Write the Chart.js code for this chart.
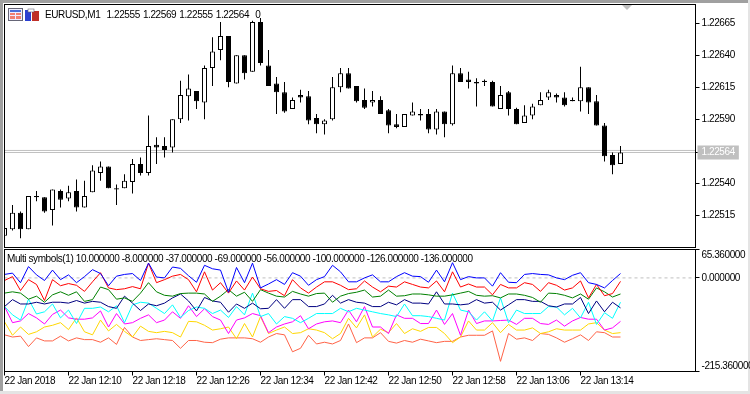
<!DOCTYPE html>
<html>
<head>
<meta charset="utf-8">
<title>EURUSD,M1</title>
<script src="https://cdn.jsdelivr.net/npm/chart.js@4/dist/chart.umd.min.js"></script>
<style>
    html, body { margin: 0; padding: 0; background: #fff; }
    #marco { position: relative; width: 750px; height: 394px; overflow: hidden; background: #fff; font: 10px "Liberation Sans", sans-serif; letter-spacing: -0.4px; color: #000; }
    #marco canvas { position: absolute; left: 0; }
    #bordeSup { position: absolute; left: 0; top: 0; width: 750px; height: 3px; background: #a0a0a0; }
    #bordeIzq { position: absolute; left: 0; top: 0; width: 3px; height: 394px; background: #a0a0a0; }
    #bordeDer { position: absolute; right: 0; top: 0; width: 2px; height: 394px; background: #e4e4e4; }
    #bordeInf { position: absolute; left: 0; bottom: 0; width: 750px; height: 3px; background: #e4e4e4; }
    .texto { position: absolute; white-space: pre; line-height: 12px; }
    #cabecera { word-spacing: 0.7px; }
    #flecha { position: absolute; left: 622px; top: 5px; width: 0; height: 0; border-left: 5px solid transparent; border-right: 5px solid transparent; border-top: 5px solid #c0c0c0; }
    #iconos { position: absolute; left: 8px; top: 8px; }
</style>
</head>
<body>
<div id="marco">
    <div id="bordeSup"></div><div id="bordeIzq"></div><div id="bordeDer"></div><div id="bordeInf"></div>
    <canvas id="chartVelas" style="top:0" width="750" height="248"></canvas>
    <canvas id="chartIndicador" style="top:248px" width="750" height="146"></canvas>
    <svg id="iconos" width="33" height="14" viewBox="0 0 33 14">
        <rect x="0.5" y="0.5" width="14" height="12" fill="#eef" stroke="#667"/>
        <rect x="2" y="2" width="11" height="2" fill="#4a6fd8"/>
        <rect x="2" y="5" width="5" height="2" fill="#f08070"/><rect x="8" y="5" width="5" height="2" fill="#f08070"/>
        <rect x="2" y="8" width="5" height="3" fill="#f08070"/><rect x="8" y="8" width="5" height="3" fill="#f08070"/>
        <rect x="17" y="2" width="6" height="11" fill="#2b3fd0"/><rect x="24" y="3" width="7" height="10" fill="#c03028"/>
        <rect x="20" y="1" width="6" height="3" fill="#fff" stroke="#667" stroke-width="0.6"/>
    </svg>
    <div id="flecha"></div>
    <div class="texto" id="cabecera" style="left:45px;top:9px"></div>
    <div class="texto" id="leyenda" style="left:7px;top:253px"></div>
</div>
<script>
// velas M1
const opens = [1.22499,1.22504,1.22517,1.22504,1.22530,1.22529,1.22519,1.22534,1.22528,1.22534,1.22521,1.22533,1.22548,1.22553,1.22536,1.22536,1.22541,1.22555,1.22548,1.22570,1.22569,1.22568,1.22590,1.22608,1.22612,1.22603,1.22630,1.22644,1.22655,1.22618,1.22640,1.22627,1.22666,1.22632,1.22618,1.22611,1.22598,1.22609,1.22608,1.22591,1.22586,1.22590,1.22615,1.22626,1.22616,1.22605,1.22603,1.22605,1.22597,1.22586,1.22584,1.22593,1.22594,1.22594,1.22582,1.22596,1.22586,1.22626,1.22621,1.22619,1.22620,1.22619,1.22598,1.22611,1.22598,1.22587,1.22593,1.22601,1.22607,1.22609,1.22607,1.22605,1.22604,1.22615,1.22604,1.22585,1.22562,1.22555];
const highs = [1.22506,1.22523,1.22518,1.22530,1.22534,1.22529,1.22535,1.22535,1.22538,1.22543,1.22542,1.22554,1.22557,1.22553,1.22539,1.22547,1.22559,1.22560,1.22593,1.22576,1.22576,1.22590,1.22620,1.22625,1.22612,1.22632,1.22654,1.22666,1.22655,1.22640,1.22640,1.22667,1.22669,1.22644,1.22623,1.22619,1.22607,1.22613,1.22612,1.22594,1.22590,1.22623,1.22630,1.22630,1.22616,1.22614,1.22612,1.22608,1.22598,1.22594,1.22594,1.22603,1.22598,1.22598,1.22598,1.22596,1.22632,1.22630,1.22627,1.22622,1.22621,1.22620,1.22616,1.22612,1.22599,1.22601,1.22602,1.22611,1.22613,1.22610,1.22611,1.22607,1.22631,1.22615,1.22609,1.22587,1.22564,1.22569];
const lows = [1.22498,1.22503,1.22497,1.22504,1.22526,1.22517,1.22507,1.22521,1.22526,1.22518,1.22521,1.22533,1.22542,1.22536,1.22523,1.22536,1.22532,1.22546,1.22546,1.22555,1.22560,1.22564,1.22587,1.22589,1.22598,1.22590,1.22616,1.22636,1.22615,1.22618,1.22621,1.22627,1.22632,1.22616,1.22594,1.22595,1.22598,1.22603,1.22586,1.22579,1.22578,1.22589,1.22611,1.22614,1.22603,1.22598,1.22600,1.22594,1.22579,1.22583,1.22584,1.22593,1.22589,1.22579,1.22578,1.22576,1.22585,1.22619,1.22614,1.22600,1.22616,1.22600,1.22598,1.22593,1.22586,1.22587,1.22590,1.22601,1.22605,1.22603,1.22600,1.22604,1.22596,1.22594,1.22585,1.22557,1.22547,1.22555];
const closes = [1.22505,1.22517,1.22504,1.22530,1.22529,1.22518,1.22535,1.22527,1.22533,1.22521,1.22530,1.22550,1.22553,1.22536,1.22535,1.22542,1.22555,1.22548,1.22569,1.22568,1.22566,1.22590,1.22609,1.22614,1.22604,1.22630,1.22643,1.22655,1.22619,1.22640,1.22626,1.22666,1.22634,1.22616,1.22611,1.22596,1.22605,1.22607,1.22589,1.22586,1.22589,1.22615,1.22626,1.22614,1.22604,1.22599,1.22605,1.22594,1.22585,1.22584,1.22594,1.22596,1.22593,1.22582,1.22596,1.22586,1.22626,1.22619,1.22619,1.22618,1.22619,1.22600,1.22609,1.22598,1.22586,1.22593,1.22600,1.22605,1.22611,1.22607,1.22601,1.22604,1.22615,1.22603,1.22585,1.22561,1.22554,1.22564];

// indicador Multi symbols(1)
const serieAzul = [8,11,-11,26,7,-6,18,-4,7,-11,3,19,10,-18,4,8,10,-6,34,2,0,25,22,5,-10,29,21,18,-33,24,-11,34,-23,-14,-4,-15,12,4,-17,-4,3,29,14,-9,-9,0,7,-9,-9,3,12,4,3,-10,18,-9,35,-4,3,0,0,-19,12,-10,-11,8,10,8,7,0,-4,6,12,-11,-15,-23,-6,10];
const serieRoja = [-6,3,-29,-4,-15,-52,-4,-18,-13,-17,-31,-9,12,-23,-27,-25,-20,-25,34,-11,-4,4,8,-4,-32,14,-28,-11,-35,-7,-28,2,-25,-31,-29,-41,-4,-23,-35,-21,-9,-9,-17,-27,-25,-7,-21,-32,-19,-21,-9,-15,-21,-23,-7,-32,14,-21,-14,-21,-21,-39,-15,-23,-23,-11,-15,-31,-11,-17,-28,-23,-7,-46,-15,-41,-36,-8];
const serieVerde = [-35,-32,-35,-49,-42,-56,-39,-32,-40,-32,-54,-50,-21,-27,-49,-46,-54,-35,-11,-32,-40,-42,-36,-35,-35,-37,-54,-42,-27,-42,-33,-54,-27,-35,-42,-44,-31,-37,-42,-36,-35,-56,-42,-36,-33,-28,-44,-42,-28,-42,-41,-37,-37,-39,-42,-42,-39,-35,-31,-40,-42,-41,-46,-37,-37,-40,-45,-56,-35,-36,-40,-46,-37,-49,-23,-32,-44,-37];
const serieMarino = [-66,-50,-60,-60,-56,-60,-56,-56,-58,-52,-58,-54,-56,-66,-70,-42,-58,-75,-60,-64,-58,-46,-37,-53,-76,-45,-53,-56,-79,-60,-70,-58,-71,-70,-50,-70,-50,-50,-66,-66,-60,-40,-58,-50,-56,-58,-66,-66,-56,-62,-50,-58,-58,-60,-32,-60,-60,-62,-60,-50,-58,-56,-74,-62,-50,-50,-54,-54,-64,-67,-60,-60,-45,-82,-53,-78,-56,-69];
const serieCian = [-66,-85,-97,-49,-83,-78,-60,-92,-74,-105,-70,-70,-67,-78,-64,-103,-62,-56,-58,-70,-82,-62,-91,-75,-67,-70,-82,-74,-91,-66,-85,-35,-89,-82,-106,-89,-93,-103,-93,-82,-82,-82,-70,-78,-70,-74,-78,-82,-85,-89,-60,-87,-87,-89,-93,-97,-35,-74,-78,-97,-78,-99,-46,-103,-74,-82,-82,-82,-66,-67,-85,-70,-92,-56,-107,-80,-93,-56];
const serieMagenta = [-66,-103,-99,-82,-92,-106,-84,-74,-92,-95,-95,-92,-76,-113,-82,-106,-103,-93,-85,-103,-97,-78,-93,-64,-89,-71,-89,-97,-128,-97,-92,-82,-87,-126,-113,-106,-101,-87,-117,-106,-101,-99,-103,-74,-101,-66,-113,-113,-128,-85,-93,-93,-105,-105,-74,-107,-82,-132,-74,-105,-99,-99,-98,-97,-107,-93,-93,-105,-107,-97,-111,-99,-91,-95,-95,-120,-115,-100];
const serieOro = [-101,-132,-113,-130,-124,-113,-109,-103,-119,-92,-124,-131,-97,-122,-107,-123,-136,-111,-123,-126,-123,-126,-136,-100,-101,-109,-120,-117,-113,-140,-105,-136,-89,-128,-120,-113,-128,-126,-117,-120,-126,-140,-128,-93,-115,-85,-136,-118,-126,-105,-128,-117,-123,-114,-114,-128,-149,-136,-99,-120,-120,-103,-126,-107,-120,-120,-115,-128,-124,-117,-120,-120,-120,-106,-103,-120,-128,-126];
const serieTomate = [-131,-136,-134,-158,-138,-145,-145,-134,-145,-138,-142,-142,-148,-138,-153,-114,-136,-144,-142,-140,-142,-144,-162,-144,-144,-148,-149,-141,-138,-138,-138,-140,-148,-136,-128,-131,-170,-162,-132,-152,-148,-152,-144,-106,-149,-138,-138,-126,-146,-150,-144,-148,-141,-145,-149,-146,-146,-136,-132,-132,-132,-122,-192,-128,-141,-138,-144,-128,-130,-138,-148,-140,-131,-144,-124,-126,-136,-136];
const coloresSeries = ["#0000ff", "#ff0000", "#008000", "#000080", "#00ffff", "#ff00ff", "#ffd700", "#ff6347"];

// ejes y textos
const etiquetasTiempo = ["22 Jan 2018","22 Jan 12:10","22 Jan 12:18","22 Jan 12:26","22 Jan 12:34","22 Jan 12:42","22 Jan 12:50","22 Jan 12:58","22 Jan 13:06","22 Jan 13:14"];
const ticksPrecio = [1.22665, 1.22640, 1.22615, 1.22590, 1.22564, 1.22540, 1.22515];
const ticksIndicador = [65.36, 0, -215.36];
const precioBid = 1.22564;
const precioAsk = 1.225656;
const barrasCabecera = "EURUSD,M1  1.22555 1.22569 1.22555 1.22564  0";
const textoLeyenda = "Multi symbols(1) 10.000000 -8.000000 -37.000000 -69.000000 -56.000000 -100.000000 -126.000000 -136.000000";

document.getElementById("cabecera").textContent = barrasCabecera;
document.getElementById("leyenda").textContent = textoLeyenda;

const fuente = { family: '"Liberation Sans", sans-serif', size: 10 };
const xMax = 86.375;
const pasoTiempo = 8;

// marco negro alrededor del area de cada panel
const marcoPanel = {
    id: "marcoPanel",
    afterDraw(chart) {
        const { ctx, chartArea: a } = chart;
        ctx.save();
        ctx.strokeStyle = "#000";
        ctx.lineWidth = 1;
        ctx.strokeRect(a.left, a.top, a.right - a.left, a.bottom - a.top);
        ctx.restore();
    }
};

function ajustarEjeY(ancho) {
    return function(scale) {
        scale.width = ancho;
        scale.paddingTop = 0;
        scale.paddingBottom = 0;
    };
}

const ctxVelas = document.getElementById("chartVelas").getContext("2d");
ctxVelas.letterSpacing = "-0.4px";
new Chart(ctxVelas, {
    type: "bar",
    data: {
        datasets: [
            {
                label: "cuerpos",
                order: 1,
                barThickness: 5,
                borderWidth: 1,
                borderSkipped: false,
                inflateAmount: 0,
                grouped: false,
                borderColor: "#000",
                backgroundColor: closes.map((c, i) => c >= opens[i] ? "#fff" : "#000"),
                data: opens.map((o, i) => ({ x: i, y: [o, closes[i]] }))
            },
            {
                label: "mechas",
                order: 2,
                barThickness: 1,
                inflateAmount: 0,
                grouped: false,
                backgroundColor: "#000",
                data: lows.map((l, i) => ({ x: i, y: [l, highs[i]] }))
            },
            {
                type: "line", label: "bid", order: 3, borderColor: "#c0c0c0", borderWidth: 1, pointRadius: 0,
                data: [{ x: 0, y: precioBid }, { x: xMax, y: precioBid }]
            },
            {
                type: "line", label: "ask", order: 3, borderColor: "#c0c0c0", borderWidth: 1, pointRadius: 0,
                data: [{ x: 0, y: precioAsk }, { x: xMax, y: precioAsk }]
            }
        ]
    },
    options: {
        responsive: false, animation: false,
        layout: { padding: { left: 4.5, top: 4.5, right: 0, bottom: 0.5 } },
        plugins: { legend: { display: false }, tooltip: { enabled: false } },
        scales: {
            x: { type: "linear", display: false, min: 0, max: xMax, offset: false, grid: { offset: false } },
            y: {
                position: "right", min: 1.22489781, max: 1.22679625,
                border: { display: false },
                grid: { drawOnChartArea: false, tickLength: 4, tickColor: "#000" },
                afterBuildTicks: scale => { scale.ticks = ticksPrecio.map(v => ({ value: v })); },
                afterFit: ajustarEjeY(54.5),
                ticks: {
                    font: fuente, padding: 2, autoSkip: false,
                    color: ctx => ctx.tick.value === precioBid ? "#fff" : "#000",
                    showLabelBackdrop: ctx => ctx.tick.value === precioBid,
                    backdropColor: "#c0c0c0",
                    backdropPadding: { x: 4, y: 1 },
                    callback: v => v.toFixed(5)
                }
            }
        }
    },
    plugins: [marcoPanel]
});

const seriesIndicador = [serieAzul, serieRoja, serieVerde, serieMarino, serieCian, serieMagenta, serieOro, serieTomate];
const ctxIndicador = document.getElementById("chartIndicador").getContext("2d");
ctxIndicador.letterSpacing = "-0.4px";
new Chart(ctxIndicador, {
    type: "line",
    data: {
        datasets: seriesIndicador.map((serie, n) => ({
            borderColor: coloresSeries[n],
            borderWidth: 1,
            pointRadius: 0,
            tension: 0,
            order: n + 1,
            data: serie.map((v, i) => ({ x: i, y: v }))
        })).concat([{
            label: "cero", order: 20, borderColor: "#c0c0c0", borderWidth: 1, borderDash: [3, 3], pointRadius: 0,
            data: [{ x: 0, y: 0 }, { x: xMax, y: 0 }]
        }])
    },
    options: {
        responsive: false, animation: false,
        layout: { padding: { left: 4.5, top: 1.5, right: 0, bottom: 0 } },
        plugins: { legend: { display: false }, tooltip: { enabled: false } },
        scales: {
            x: {
                type: "linear", min: 0, max: xMax,
                border: { display: false },
                grid: { drawOnChartArea: false, tickLength: 4, tickColor: "#000" },
                afterBuildTicks: scale => {
                    scale.ticks = etiquetasTiempo.map((t, n) => ({ value: n * pasoTiempo }));
                },
                afterFit: scale => { scale.height = 22.5; scale.paddingLeft = 0; scale.paddingRight = 0; },
                ticks: {
                    font: fuente, color: "#000", padding: 0, align: "start", maxRotation: 0, autoSkip: false,
                    callback: v => etiquetasTiempo[v / pasoTiempo]
                }
            },
            y: {
                position: "right", min: -215.36, max: 65.36,
                border: { display: false },
                grid: { drawOnChartArea: false, tickLength: 4, tickColor: "#000" },
                afterBuildTicks: scale => { scale.ticks = ticksIndicador.map(v => ({ value: v })); },
                afterFit: ajustarEjeY(54.5),
                ticks: {
                    font: { family: fuente.family, size: 10, lineHeight: 1.1 }, color: "#000", padding: 2, autoSkip: false,
                    callback: v => {
                        const txt = v.toFixed(6);
                        if (v > 0) return ["", txt];
                        if (v < 0) return [txt, ""];
                        return txt;
                    }
                }
            }
        }
    },
    plugins: [marcoPanel]
});
</script>
</body>
</html>
